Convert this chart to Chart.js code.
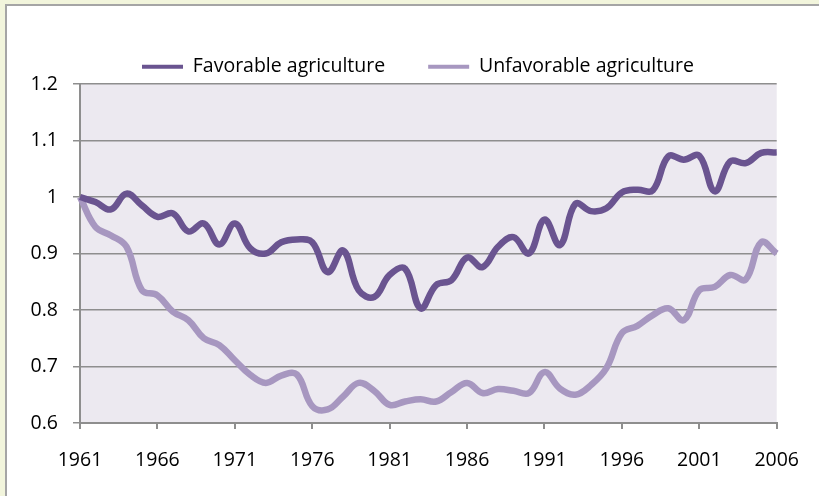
<!DOCTYPE html>
<html>
<head>
<meta charset="utf-8">
<script src="https://cdn.jsdelivr.net/npm/chart.js@4"></script>
<style>
  html, body { margin: 0; padding: 0; background: #f2f5dc; }
  #wrap { width: 819px; height: 496px; position: relative; }
  canvas { display: block; }
</style>
</head>
<body>
<div id="wrap"><canvas id="c" width="819" height="496"></canvas></div>
<script>
// ---- data ----
const years = [
  1961,1962,1963,1964,1965,1966,1967,1968,1969,1970,
  1971,1972,1973,1974,1975,1976,1977,1978,1979,1980,
  1981,1982,1983,1984,1985,1986,1987,1988,1989,1990,
  1991,1992,1993,1994,1995,1996,1997,1998,1999,2000,
  2001,2002,2003,2004,2005,2006
];
const favorable = [
  1.000,0.991,0.978,1.006,0.985,0.965,0.971,0.939,0.953,0.916,
  0.953,0.909,0.900,0.920,0.925,0.920,0.867,0.905,0.835,0.823,
  0.862,0.873,0.803,0.844,0.853,0.893,0.876,0.912,0.929,0.900,
  0.960,0.915,0.988,0.975,0.980,1.008,1.013,1.012,1.072,1.066,
  1.073,1.010,1.063,1.060,1.078,1.079
];
const unfavorable = [
  1.000,0.947,0.932,0.912,0.835,0.826,0.797,0.782,0.750,0.738,
  0.711,0.685,0.671,0.684,0.686,0.630,0.624,0.647,0.671,0.657,
  0.632,0.638,0.642,0.638,0.655,0.671,0.653,0.660,0.657,0.653,
  0.690,0.661,0.650,0.667,0.697,0.759,0.772,0.791,0.803,0.782,
  0.835,0.841,0.862,0.854,0.920,0.900
];
const xTickLabels = ["1961","1966","1971","1976","1981","1986","1991","1996","2001","2006"];
const seriesNames = ["Favorable agriculture", "Unfavorable agriculture"];
const yMin = 0.6, yMax = 1.2, yStep = 0.1;

// ---- style ----
const darkColor = '#6a5490';
const lightColor = '#a797c0';
const gridColor = '#8e8e8e';
const LEGEND_PAD = 43;
const LEGEND_TOP = 14;
const PLOT_TOP = 84;
const LEGEND_SHIFT = 29;

Chart.defaults.font.family = "'Open Sans', sans-serif";
Chart.defaults.color = '#000';

const backgroundPlugin = {
  id: 'bgbox',
  beforeDraw(chart) {
    const ctx = chart.ctx;
    const a = chart.chartArea;
    ctx.save();
    ctx.fillStyle = '#f2f5dc';
    ctx.fillRect(0, 0, chart.width, chart.height);
    ctx.fillStyle = '#ffffff';
    ctx.fillRect(6, 5, chart.width + 20, chart.height + 20);
    ctx.strokeStyle = '#a5a5a5';
    ctx.lineWidth = 2;
    ctx.strokeRect(6, 5, chart.width + 20, chart.height + 20);
    ctx.fillStyle = '#ece9f0';
    ctx.fillRect(a.left, a.top, a.right - a.left, a.bottom - a.top);
    ctx.restore();
  }
};

const legendTweak = {
  id: 'legendTweak',
  beforeLayout(chart) {
    const lg = chart.legend;
    if (lg && !lg.__patched) {
      const origFit = lg.fit;
      lg.fit = function() {
        origFit.call(this);
        this.height = PLOT_TOP - LEGEND_TOP;
      };
      lg.__patched = true;
    }
  },
  afterLayout(chart) {
    const lg = chart.legend;
    if (lg) { lg.left += LEGEND_SHIFT; lg.right += LEGEND_SHIFT; }
  }
};

new Chart(document.getElementById('c'), {
  type: 'line',
  data: {
    labels: years.map(String),
    datasets: [
      { label: seriesNames[0], data: favorable, borderColor: darkColor, backgroundColor: darkColor,
        borderWidth: 6.5, pointRadius: 0, tension: 0.4, fill: false },
      { label: seriesNames[1], data: unfavorable, borderColor: lightColor, backgroundColor: lightColor,
        borderWidth: 6.5, pointRadius: 0, tension: 0.4, fill: false }
    ]
  },
  options: {
    responsive: false,
    animation: false,
    devicePixelRatio: 1,
    layout: { padding: { top: LEGEND_TOP, left: 0, right: 41, bottom: 0 } },
    plugins: {
      tooltip: { enabled: false },
      legend: {
        position: 'top',
        labels: {
          boxWidth: 41,
          boxHeight: 4,
          padding: LEGEND_PAD,
          font: { size: 19.5 },
          generateLabels(chart) {
            const items = Chart.defaults.plugins.legend.labels.generateLabels(chart);
            items.forEach(it => { it.lineWidth = 0; it.fillStyle = it.strokeStyle; });
            return items;
          }
        }
      }
    },
    scales: {
      x: {
        type: 'category',
        offset: false,
        border: { display: true, color: gridColor, width: 2 },
        grid: {
          drawOnChartArea: false,
          drawTicks: true,
          tickLength: 6,
          lineWidth: 2,
          color: (c) => (xTickLabels.includes(String(years[c.index])) ? gridColor : 'rgba(0,0,0,0)')
        },
        ticks: {
          autoSkip: false,
          maxRotation: 0,
          padding: 20,
          font: { size: 19.5 },
          callback: function(val, index) {
            const l = this.getLabelForValue(val);
            return xTickLabels.includes(l) ? l : '';
          }
        },
        afterFit(scale) { scale.height = 73; }
      },
      y: {
        min: yMin, max: yMax,
        border: { display: true, color: gridColor, width: 2 },
        grid: { color: gridColor, lineWidth: 1.5, drawTicks: true, tickLength: 7 },
        ticks: {
          stepSize: yStep, padding: 15, font: { size: 19.5 },
          callback: (v) => String(Number(v.toFixed(1)))
        },
        afterFit(scale) { scale.width = 80; }
      }
    }
  },
  plugins: [backgroundPlugin, legendTweak]
});
</script>
</body>
</html>
